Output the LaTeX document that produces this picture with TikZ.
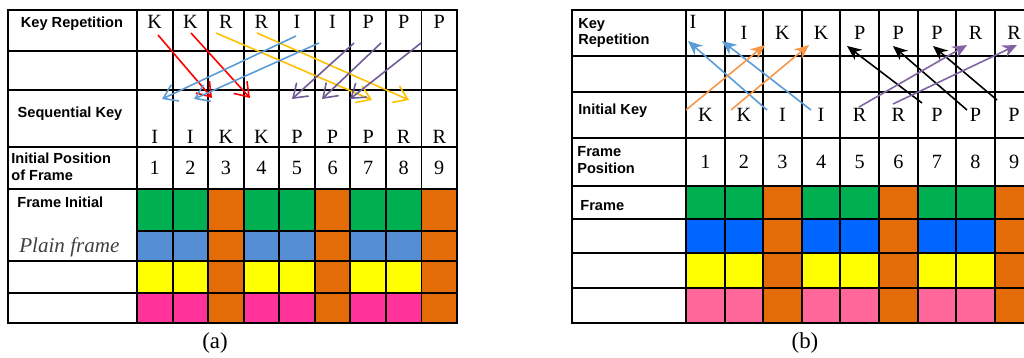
\documentclass[tikz,border=0pt]{standalone}
\usepackage{fontspec}
\setmainfont{Liberation Serif}
\setsansfont{Liberation Sans}
\usetikzlibrary{arrows.meta,calc}

\definecolor{cellGreen}{HTML}{00B050}
\definecolor{cellOrange}{HTML}{E36C09}
\definecolor{cellBlueA}{HTML}{558ED5}
\definecolor{cellBlueB}{HTML}{0066FF}
\definecolor{cellYellow}{HTML}{FFFF00}
\definecolor{cellPinkA}{HTML}{FF3399}
\definecolor{cellPinkB}{HTML}{FF6699}
\definecolor{arrRed}{HTML}{FF0000}
\definecolor{arrYellow}{HTML}{FFC000}
\definecolor{arrBlue}{HTML}{5B9BD5}
\definecolor{arrPurple}{HTML}{6E5A96}
\definecolor{arrOrange}{HTML}{F79646}
\definecolor{arrViolet}{HTML}{8064A2}

\begin{document}
\begin{tikzpicture}[x=0.02cm, y=-0.02cm,
        tablines/.style={line width=1.1pt, draw=black},
        lbl/.style={font=\sffamily\bfseries\fontsize{8.3}{9.5}\selectfont, align=left, inner sep=0pt},
        cellltr/.style={font=\fontsize{11.5}{12}\selectfont, inner sep=0pt},
        captxt/.style={font=\fontsize{13}{14}\selectfont, inner sep=0pt},
        opentip/.style={-{Straight Barb[length=2.6mm,width=3.6mm]}, line width=0.9pt},
        closedtip/.style={-{Stealth[length=2.9mm,width=2.5mm]}, line width=0.9pt}
    ]
    \clip (0,0) rectangle (1024,358);

    % (a) colour cells
    \foreach \c in {1,...,9}{
        \pgfmathtruncatemacro{\m}{mod(\c,3)}
        \ifnum\m=0
            \fill[cellOrange] ({137+35.56*(\c-1)},189) rectangle ++(35.56,134);
        \else
            \fill[cellGreen] ({137+35.56*(\c-1)},189) rectangle ++(35.56,42);
            \fill[cellBlueA] ({137+35.56*(\c-1)},231) rectangle ++(35.56,30);
            \fill[cellYellow] ({137+35.56*(\c-1)},261) rectangle ++(35.56,32);
            \fill[cellPinkA] ({137+35.56*(\c-1)},293) rectangle ++(35.56,30);
        \fi
    }
    % (a) grid
    \draw[tablines] (8,10) rectangle (457,323);
    \foreach \y in {51,90,147,189,261,293} \draw[tablines] (8,\y) -- (457,\y);
    \draw[tablines] (137,231) -- (457,231);
    \foreach \c in {0,...,8} \draw[tablines] ({137+35.56*\c},10) -- ({137+35.56*\c},323);

    % (a) texts
    \node[lbl] (a-key) at (72,24) {Key Repetition};
    \node[lbl] (a-seq) at (70,114) {Sequential Key};
    \node[lbl, anchor=west] (a-pos) at (11,167) {Initial Position\\of Frame};
    \node[lbl, anchor=west] (a-frm) at (17,202) {Frame Initial};
    \node[anchor=west, inner sep=0pt, font=\itshape\fontsize{12}{13}\selectfont, text=black!75] (a-plain) at (19,247) {Plain frame};
    \foreach \l [count=\i] in {K,K,R,R,I,I,P,P,P}
        \node[cellltr] (a-top-\i) at ({137+35.56*(\i-0.5)},22) {\l};
    \foreach \l [count=\i] in {I,I,K,K,P,P,P,R,R}
        \node[cellltr] (a-seq-\i) at ({137+35.56*(\i-0.5)},137) {\l};
    \foreach \i in {1,...,9}
        \node[cellltr] (a-num-\i) at ({137+35.56*(\i-0.5)},168) {\i};
    \node[captxt] (a-cap) at (215,343) {(a)};

    % (a) arrows
    \foreach \nm/\cl/\sx/\sy/\ex/\ey in {ar1/arrRed/158/35/212/98, ar2/arrRed/191/33/250/98,
            ay1/arrYellow/216/33/372/100, ay2/arrYellow/257/33/409/100,
            ab1/arrBlue/296/36/162/99, ab2/arrBlue/319/43/194/99,
            ap1/arrPurple/354/43/292/99, ap2/arrPurple/381/43/322/99, ap3/arrPurple/421/43/350/99}{
        \coordinate (\nm-s) at (\sx,\sy);
        \coordinate (\nm-e) at (\ex,\ey);
        \draw[opentip, draw=\cl] (\nm-s) -- (\nm-e);
    }

    % (b) colour cells
    \foreach \c in {1,...,9}{
        \pgfmathtruncatemacro{\m}{mod(\c,3)}
        \ifnum\m=0
            \fill[cellOrange] ({686+38.6*(\c-1)},186) rectangle ++(38.6,137);
        \else
            \fill[cellGreen] ({686+38.6*(\c-1)},186) rectangle ++(38.6,33);
            \fill[cellBlueB] ({686+38.6*(\c-1)},219) rectangle ++(38.6,34);
            \fill[cellYellow] ({686+38.6*(\c-1)},253) rectangle ++(38.6,35);
            \fill[cellPinkB] ({686+38.6*(\c-1)},288) rectangle ++(38.6,35);
        \fi
    }
    % (b) grid
    \draw[tablines] (572,10) rectangle (1034,323);
    \foreach \y in {56,92,138,186,219,253,288} \draw[tablines] (572,\y) -- (1034,\y);
    \foreach \c in {0,...,8} \draw[tablines] ({686+38.6*\c},10) -- ({686+38.6*\c},323);

    % (b) texts
    \node[lbl, anchor=west] (b-key) at (578,33) {Key\\Repetition};
    \node[lbl, anchor=west] (b-ini) at (578,111) {Initial Key};
    \node[lbl, anchor=west] (b-pos) at (577,160) {Frame\\Position};
    \node[lbl, anchor=west] (b-frm) at (580,206) {Frame};
    \node[cellltr] (b-top-1) at (693,22) {I};
    \foreach \l [count=\i from 2] in {I,K,K,P,P,P,R,R}
        \node[cellltr] (b-top-\i) at ({686+38.6*(\i-0.5)},33) {\l};
    \foreach \l [count=\i] in {K,K,I,I,R,R,P,P,P}
        \node[cellltr] (b-ini-\i) at ({686+38.6*(\i-0.5)},115) {\l};
    \foreach \i in {1,...,9}
        \node[cellltr] (b-num-\i) at ({686+38.6*(\i-0.5)},162) {\i};
    \node[captxt] (b-cap) at (805,343) {(b)};

    % (b) arrows
    \foreach \nm/\cl/\sx/\sy/\ex/\ey in {bb1/arrBlue/767/110/688/41, bb2/arrBlue/811/110/722/41,
            bo1/arrOrange/686/110/765/45, bo2/arrOrange/731/110/809/45,
            bk1/black/922/103/847/46, bk2/black/967/110/893/46, bk3/black/997/100/933/46,
            bv1/arrViolet/859/107/967/45, bv2/arrViolet/893/104/1017/45}{
        \coordinate (\nm-s) at (\sx,\sy);
        \coordinate (\nm-e) at (\ex,\ey);
        \draw[closedtip, draw=\cl, fill=\cl] (\nm-s) -- (\nm-e);
    }
\end{tikzpicture}
\end{document}
